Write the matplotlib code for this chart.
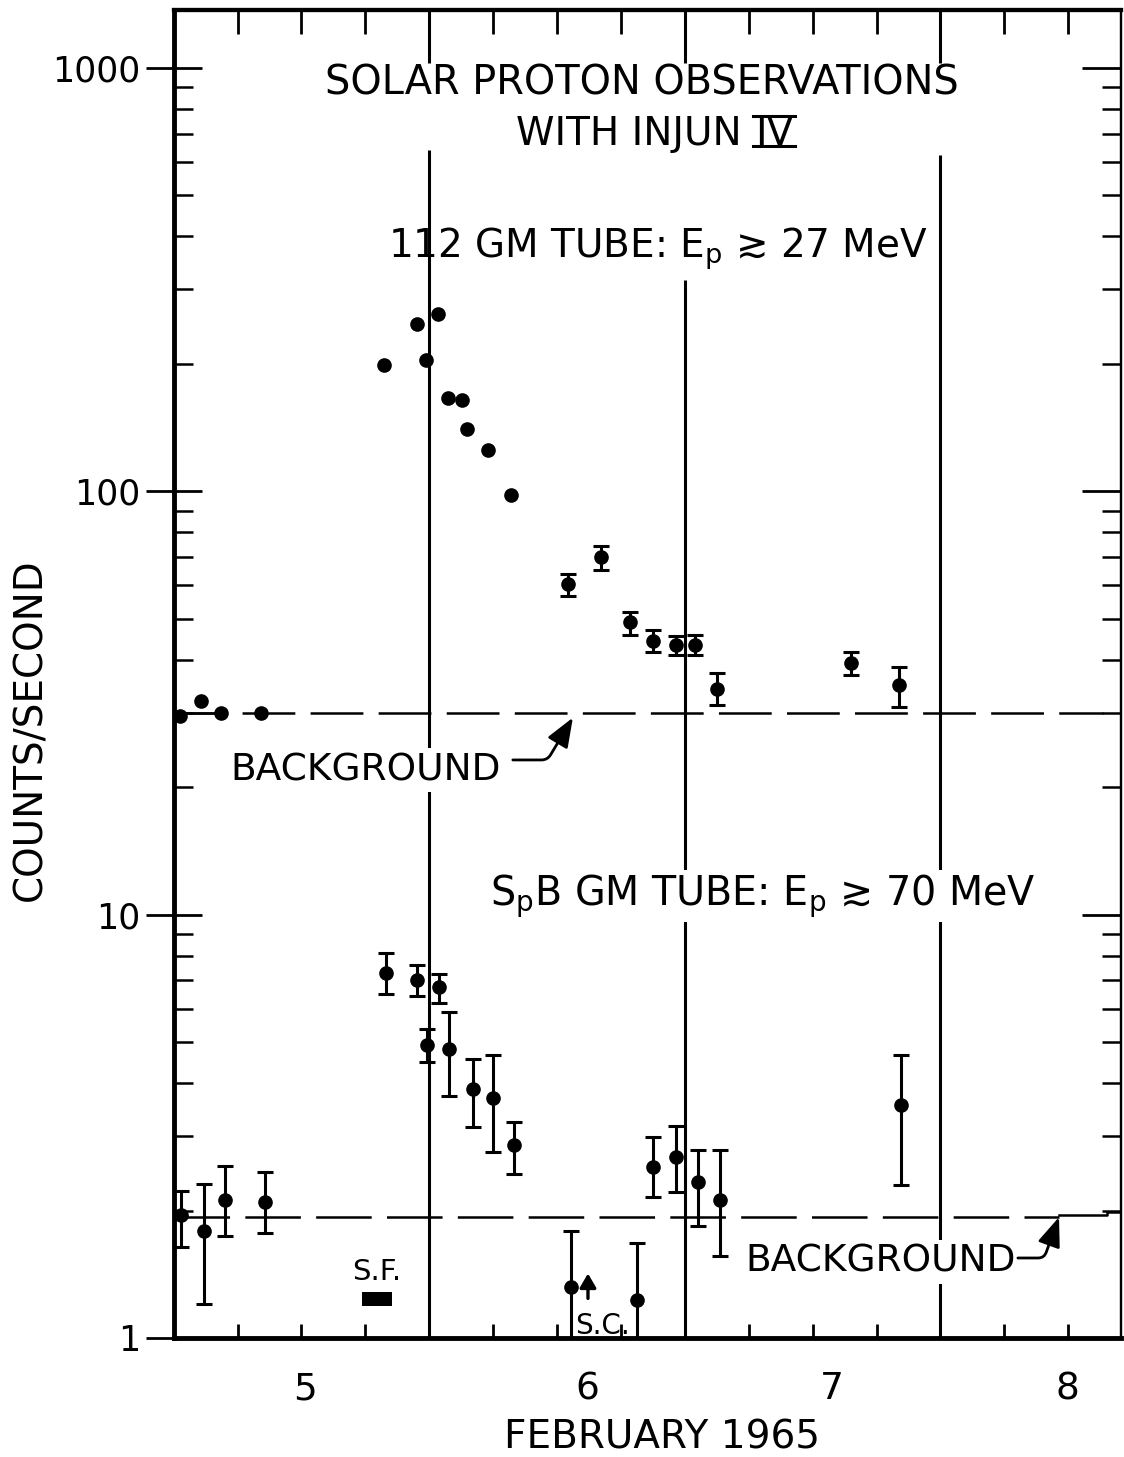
import numpy as np
import matplotlib.pyplot as plt
from matplotlib.ticker import FixedLocator, LogLocator, NullFormatter, FuncFormatter
from matplotlib.lines import Line2D
from matplotlib.transforms import IdentityTransform, blended_transform_factory

plt.rcParams['font.family'] = ['DejaVu Sans']
plt.rcParams['mathtext.default'] = 'regular'
plt.rcParams['lines.scale_dashes'] = False

# 112 GM tube, points without error bars (day of Feb 1965, counts/s)
up_x = [4.525, 4.607, 4.685, 4.842, 5.323, 5.451, 5.487, 5.533, 5.572, 5.628, 5.649, 5.731, 5.818]
up_y = [29.4, 32.0, 30.0, 30.0, 199, 248, 204, 262, 166, 164, 140, 125, 98]

# 112 GM tube, points with error bars
upe_x = [6.041, 6.171, 6.286, 6.376, 6.464, 6.538, 6.626, 7.149, 7.336]
upe_y = [60.3, 70.1, 49.1, 44.3, 43.4, 43.3, 34.2, 39.4, 34.9]
upe_lo = [56.7, 65.2, 45.8, 41.7, 41.1, 41.1, 31.3, 36.8, 30.9]
upe_hi = [63.8, 74.4, 52.0, 47.1, 45.5, 45.8, 37.2, 41.8, 38.5]

# SpB GM tube
lo_x = [4.527, 4.620, 4.702, 4.857, 5.331, 5.451, 5.492, 5.538, 5.578, 5.670,
        5.750, 5.831, 6.054, 6.311, 6.376, 6.465, 6.552, 6.637, 7.346]
lo_y = [1.95, 1.79, 2.12, 2.10, 7.27, 7.01, 4.92, 6.76, 4.81, 3.87,
        3.68, 2.86, 1.32, 1.23, 2.53, 2.68, 2.34, 2.12, 3.55]
lo_lo = [1.64, 1.20, 1.74, 1.77, 6.49, 6.43, 4.48, 6.18, 3.72, 3.15,
         2.75, 2.44, 0.9, 0.9, 2.15, 2.21, 1.84, 1.56, 2.30]
lo_hi = [2.23, 2.31, 2.55, 2.47, 8.11, 7.61, 5.36, 7.24, 5.90, 4.56,
         4.66, 3.24, 1.79, 1.68, 2.99, 3.17, 2.78, 2.78, 4.66]

bg_upper = 30.0
bg_lower = 1.93

# day boundaries (vertical lines) and how high they reach
day_lines = [5.5, 6.5, 7.5]
day_line_top = [640, 316, 623]

# solar flare interval and sudden commencement time
sf_t = [5.236, 5.353]
sc_t = 6.121

xtick_pos = [5.014, 6.117, 7.075, 7.995]
xtick_lab = ['5', '6', '7', '8']

fig = plt.figure(figsize=(11.24, 14.57), dpi=100)
ax = fig.add_axes([0.1545, 0.0817, 0.8425, 0.9115])
ax.set_yscale('log')
ax.set_xlim(4.5, 8.205)
ax.set_ylim(1, 1372)

ms = 9.5
# upper series
ax.plot(up_x, up_y, 'o', color='k', ms=ms, clip_on=False, zorder=5)
ax.errorbar(upe_x, upe_y,
            yerr=[np.subtract(upe_y, upe_lo), np.subtract(upe_hi, upe_y)],
            fmt='o', color='k', ms=ms, elinewidth=2.2, capsize=6, capthick=2.2, zorder=5)
# lower series
ax.errorbar(lo_x, lo_y,
            yerr=[np.subtract(lo_y, lo_lo), np.subtract(lo_hi, lo_y)],
            fmt='o', color='k', ms=ms, elinewidth=2.2, capsize=6, capthick=2.2, zorder=5)

# vertical day lines
ax.vlines(day_lines, 1, day_line_top, color='k', lw=2.2, zorder=1)
# long ticks at the top for the day lines
top_tr = blended_transform_factory(ax.transData, ax.transAxes)
ax.vlines(day_lines, 0.96, 1.0, color='k', lw=2.2, transform=top_tr)

# background levels
ax.plot([4.5, 4.69], [bg_upper, bg_upper], color='k', lw=1.8, zorder=2)
ax.plot([4.5, 8.136], [bg_upper, bg_upper], color='k', lw=1.8, dashes=(38, 11), zorder=2)
ax.plot([4.5, 7.965], [bg_lower, bg_lower], color='k', lw=1.8, dashes=(40, 11), zorder=2)
ax.plot([7.965, 8.15, 8.15, 8.205], [1.95, 1.95, 1.985, 1.985], color='k', lw=1.8, zorder=2)

# S.F. and S.C. markers
ax.fill_between(sf_t, 1.19, 1.284, color='k', lw=0)
ax.text(np.mean(sf_t), 1.371, 'S.F.', ha='center', va='baseline', fontsize=21)
ax.annotate('', xy=(sc_t, 1.42), xytext=(sc_t, 1.24),
            arrowprops=dict(arrowstyle='-|>,head_length=0.6,head_width=0.35',
                            color='k', lw=2.4, mutation_scale=14, shrinkA=0, shrinkB=0))
ax.text(6.176, 1.022, 'S.C.', ha='center', va='baseline', fontsize=20)

# labels inside the plot
ax.text(6.332, 864, 'SOLAR PROTON OBSERVATIONS', ha='center', va='baseline', fontsize=28.7)
ax.text(6.722, 658, 'WITH INJUN', ha='right', va='baseline', fontsize=28)
t_iv = ax.text(6.775, 658, 'IV', ha='left', va='baseline', fontsize=28)
ax.text(5.338, 356, r'112 GM TUBE: E$_{p}$ ≳ 27 MeV', ha='left', va='baseline', fontsize=28)
ax.text(5.737, 10.54, r'S$_{p}$B GM TUBE: E$_{p}$ ≳ 70 MeV', ha='left', va='baseline',
        fontsize=28.5, zorder=3, bbox=dict(fc='white', ec='none', pad=2))

white = dict(fc='white', ec='none', pad=3)
ax.text(4.720, 20.8, 'BACKGROUND', ha='left', va='baseline', fontsize=27, zorder=3, bbox=white)
ax.text(6.735, 1.432, 'BACKGROUND', ha='left', va='baseline', fontsize=27, zorder=3, bbox=white)

arrow = dict(arrowstyle='-|>,head_length=0.9,head_width=0.35', color='k', lw=2,
             mutation_scale=20, shrinkA=0, shrinkB=0)
ax.annotate('', xy=(6.062, 29.2), xytext=(5.827, 23.2),
            arrowprops=dict(arrow, connectionstyle='angle,angleA=0,angleB=59,rad=6'))
ax.annotate('', xy=(7.964, 1.93), xytext=(7.803, 1.545),
            arrowprops=dict(arrow, connectionstyle='angle,angleA=0,angleB=70,rad=6'))

# axes / ticks
quarter = np.arange(4.75, 8.2, 0.25)
ax.set_xticks(xtick_pos, labels=xtick_lab)
ax.xaxis.set_minor_locator(FixedLocator(quarter))
ax.tick_params(axis='x', which='major', length=0, pad=24, labelsize=27, top=False)
ax.tick_params(axis='x', which='minor', direction='in', length=10, width=2, top=False)

ax.yaxis.set_major_locator(LogLocator(base=10))
ax.yaxis.set_minor_locator(LogLocator(base=10, subs=np.arange(2, 10)))
ax.yaxis.set_major_formatter(FuncFormatter(lambda v, _: f'{v:g}'))
ax.yaxis.set_minor_formatter(NullFormatter())
ax.tick_params(axis='y', which='major', direction='inout', length=40, width=2,
               labelsize=25, pad=4, right=False)
ax.tick_params(axis='y', which='minor', direction='in', length=14, width=1.8, right=False)

secx = ax.secondary_xaxis('top')
secx.xaxis.set_major_locator(FixedLocator(quarter))
secx.tick_params(which='major', direction='in', length=17, width=2, labeltop=False)

secy = ax.secondary_yaxis('right')
secy.yaxis.set_major_locator(LogLocator(base=10))
secy.yaxis.set_minor_locator(LogLocator(base=10, subs=np.arange(2, 10)))
secy.yaxis.set_minor_formatter(NullFormatter())
secy.tick_params(which='major', direction='in', length=28, width=2, labelright=False)
secy.tick_params(which='minor', direction='in', length=14, width=1.8, labelright=False)

for side, lw in [('left', 3.5), ('bottom', 3.5), ('top', 3), ('right', 1.6)]:
    ax.spines[side].set_linewidth(lw)
secx.spines['top'].set_linewidth(3)
secy.spines['right'].set_linewidth(1.6)

ax.set_ylabel('COUNTS/SECOND', fontsize=28, va='center')
ax.yaxis.set_label_coords(-0.1517, 0.458)
ax.set_xlabel('FEBRUARY 1965', fontsize=28, va='center')
ax.xaxis.set_label_coords(0.5156, -0.0753)

# bars above and below the roman numeral
fig.canvas.draw()
bb = t_iv.get_window_extent()
base = ax.transData.transform((6.775, 658))[1]
cap = 0.729 * 28 * fig.dpi / 72
for yy in (base - 1, base + cap + 1):
    fig.add_artist(Line2D([bb.x0 - 2, bb.x1 + 2], [yy, yy], transform=IdentityTransform(),
                          color='k', lw=2.2))

fig.savefig('out.png', dpi=100)
